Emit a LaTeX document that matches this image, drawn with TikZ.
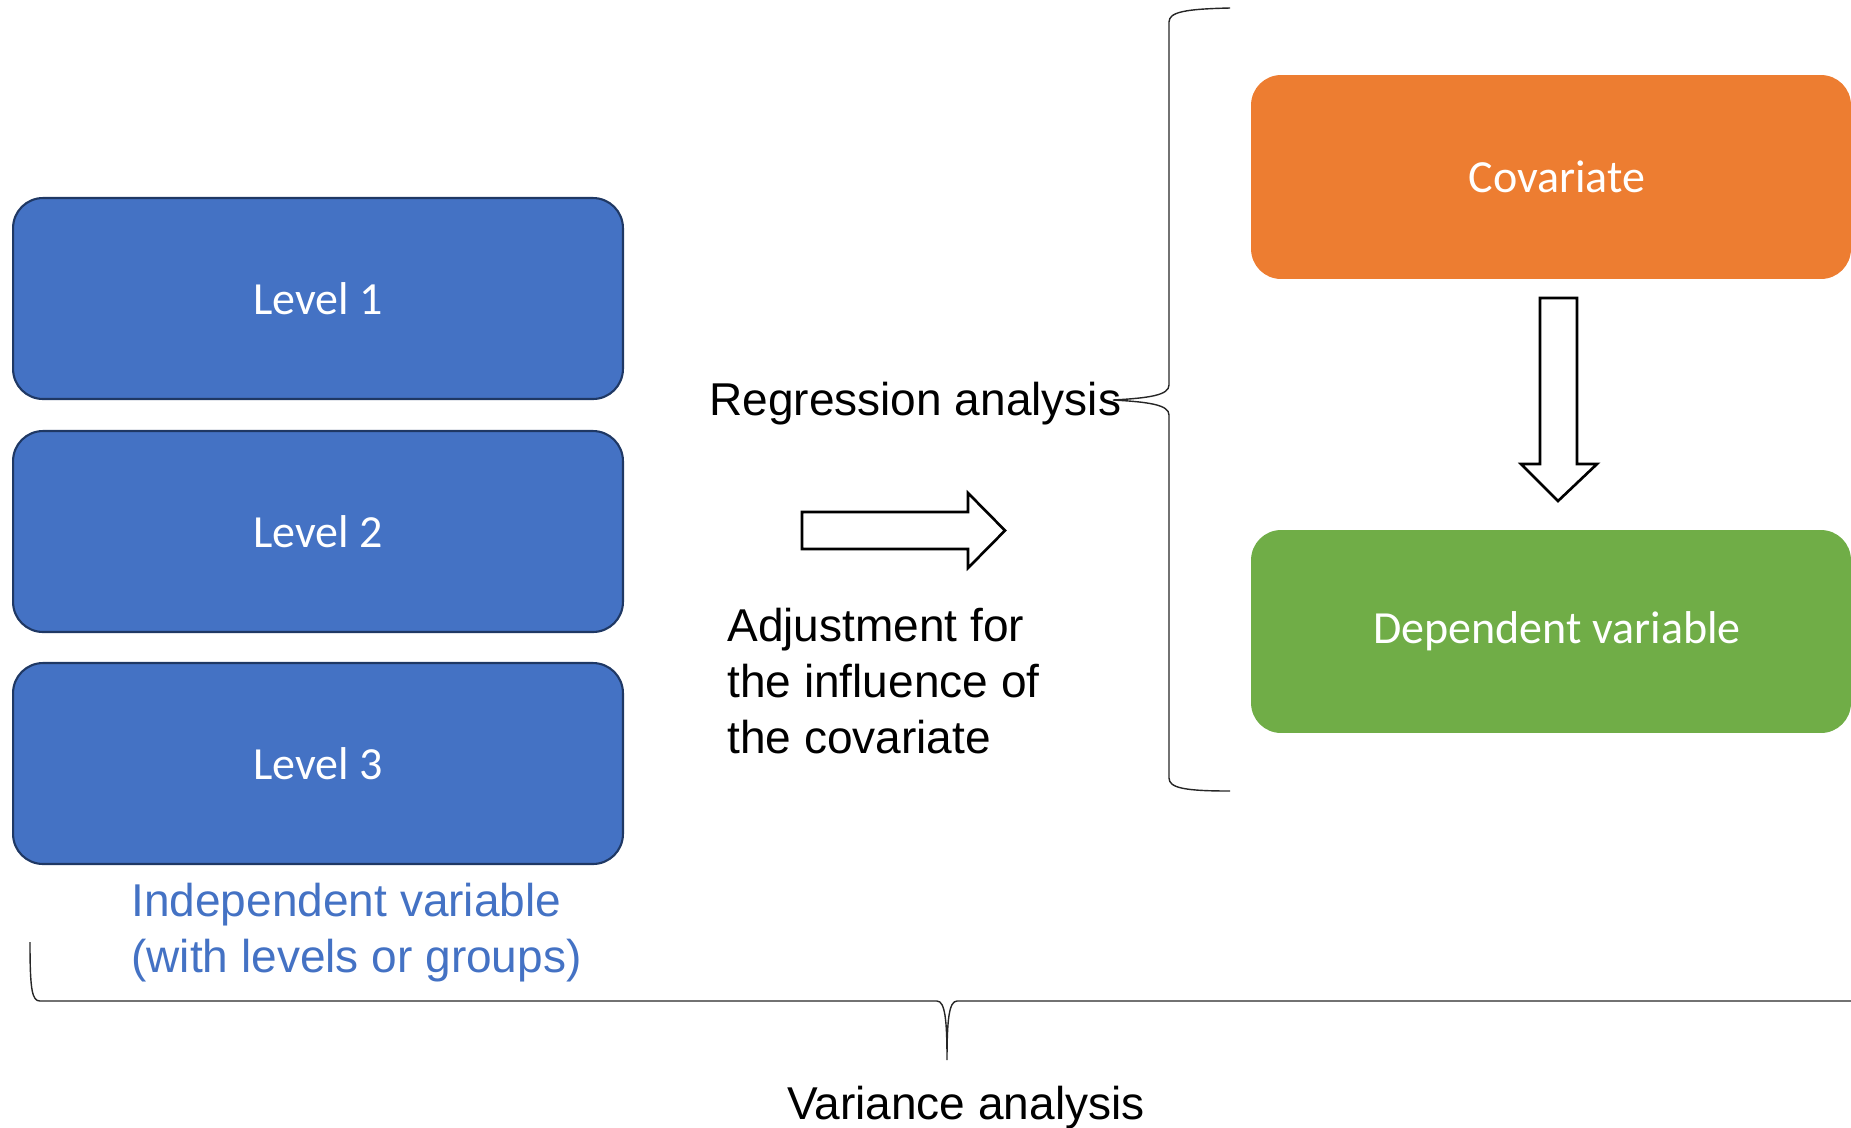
\documentclass[tikz,border=0pt]{standalone}
\usepackage{fontspec}
\setmainfont{Liberation Sans}
\newfontfamily\carlitofont{Carlito}
\definecolor{lvlblue}{HTML}{4472C4}
\definecolor{lvledge}{HTML}{1F3864}
\definecolor{covorange}{HTML}{ED7D31}
\definecolor{depgreen}{HTML}{70AD47}
\begin{document}
\begin{tikzpicture}[x=0.02cm,y=-0.02cm,
  box/.style={rounded corners=0.6cm, minimum width=12.2cm, minimum height=4.02cm, inner sep=0pt,
    font=\carlitofont\fontsize{26.2}{31.4}\selectfont, text=white},
  level/.style={box, fill=lvlblue, draw=lvledge, line width=1.2pt},
  label/.style={font=\fontsize{26.2}{31.6}\selectfont, inner sep=0pt, align=left},
  brace/.style={line width=0.8pt, draw=black!85},
  blockarrow/.style={draw=black, line width=1.5pt, fill=white, line join=miter}]
\useasboundingbox (0,0) rectangle (1851,1127);
% level boxes
\node[level] (l1) at (318,298.5) {Level 1};
\node[level] (l2) at (318,531.5) {Level 2};
\node[level] (l3) at (318,763.5) {Level 3};
% covariate and dependent
\node[box, fill=covorange, minimum width=12cm, minimum height=4.08cm] (cov) at (1551,177) {\hspace*{0.24cm}Covariate};
\node[box, fill=depgreen, minimum width=12cm, minimum height=4.06cm] (dep) at (1551,631.5) {\hspace*{0.24cm}Dependent variable};
% block arrows
\draw[blockarrow] (802,512) -- (968,512) -- (968,493) -- (1005,530.5) -- (968,568) -- (968,549) -- (802,549) -- cycle;
\draw[blockarrow] (1540,298) -- (1577,298) -- (1577,464) -- (1597,464) -- (1558,501) -- (1521,464) -- (1540,464) -- cycle;
% texts
\node[label, anchor=base west] (reg) at (709,415) {Regression analysis};
\node[label, anchor=base west] (adj) at (727,753) {Adjustment for\\the influence of\\the covariate};
\node[label, anchor=base west, text=lvlblue] (ind) at (131,972) {Independent variable\\(with levels or groups)};
\node[label, anchor=base] (var) at (966,1119) {Variance analysis};
% right brace
\draw[brace] (1230,8) .. controls (1185,9) and (1169,12) .. (1169,22) -- (1169,385)
  .. controls (1169,395) and (1150,398) .. (1113,400)
  .. controls (1150,402) and (1169,405) .. (1169,415) -- (1169,778)
  .. controls (1169,788) and (1185,791) .. (1230,791);
% bottom brace
\draw[brace] (30,942) .. controls (30,990) and (32,1001) .. (40,1001) -- (937,1001)
  .. controls (945,1001) and (947,1020) .. (947,1060)
  .. controls (947,1020) and (949,1001) .. (957,1001) -- (1851,1001);
\end{tikzpicture}
\end{document}
